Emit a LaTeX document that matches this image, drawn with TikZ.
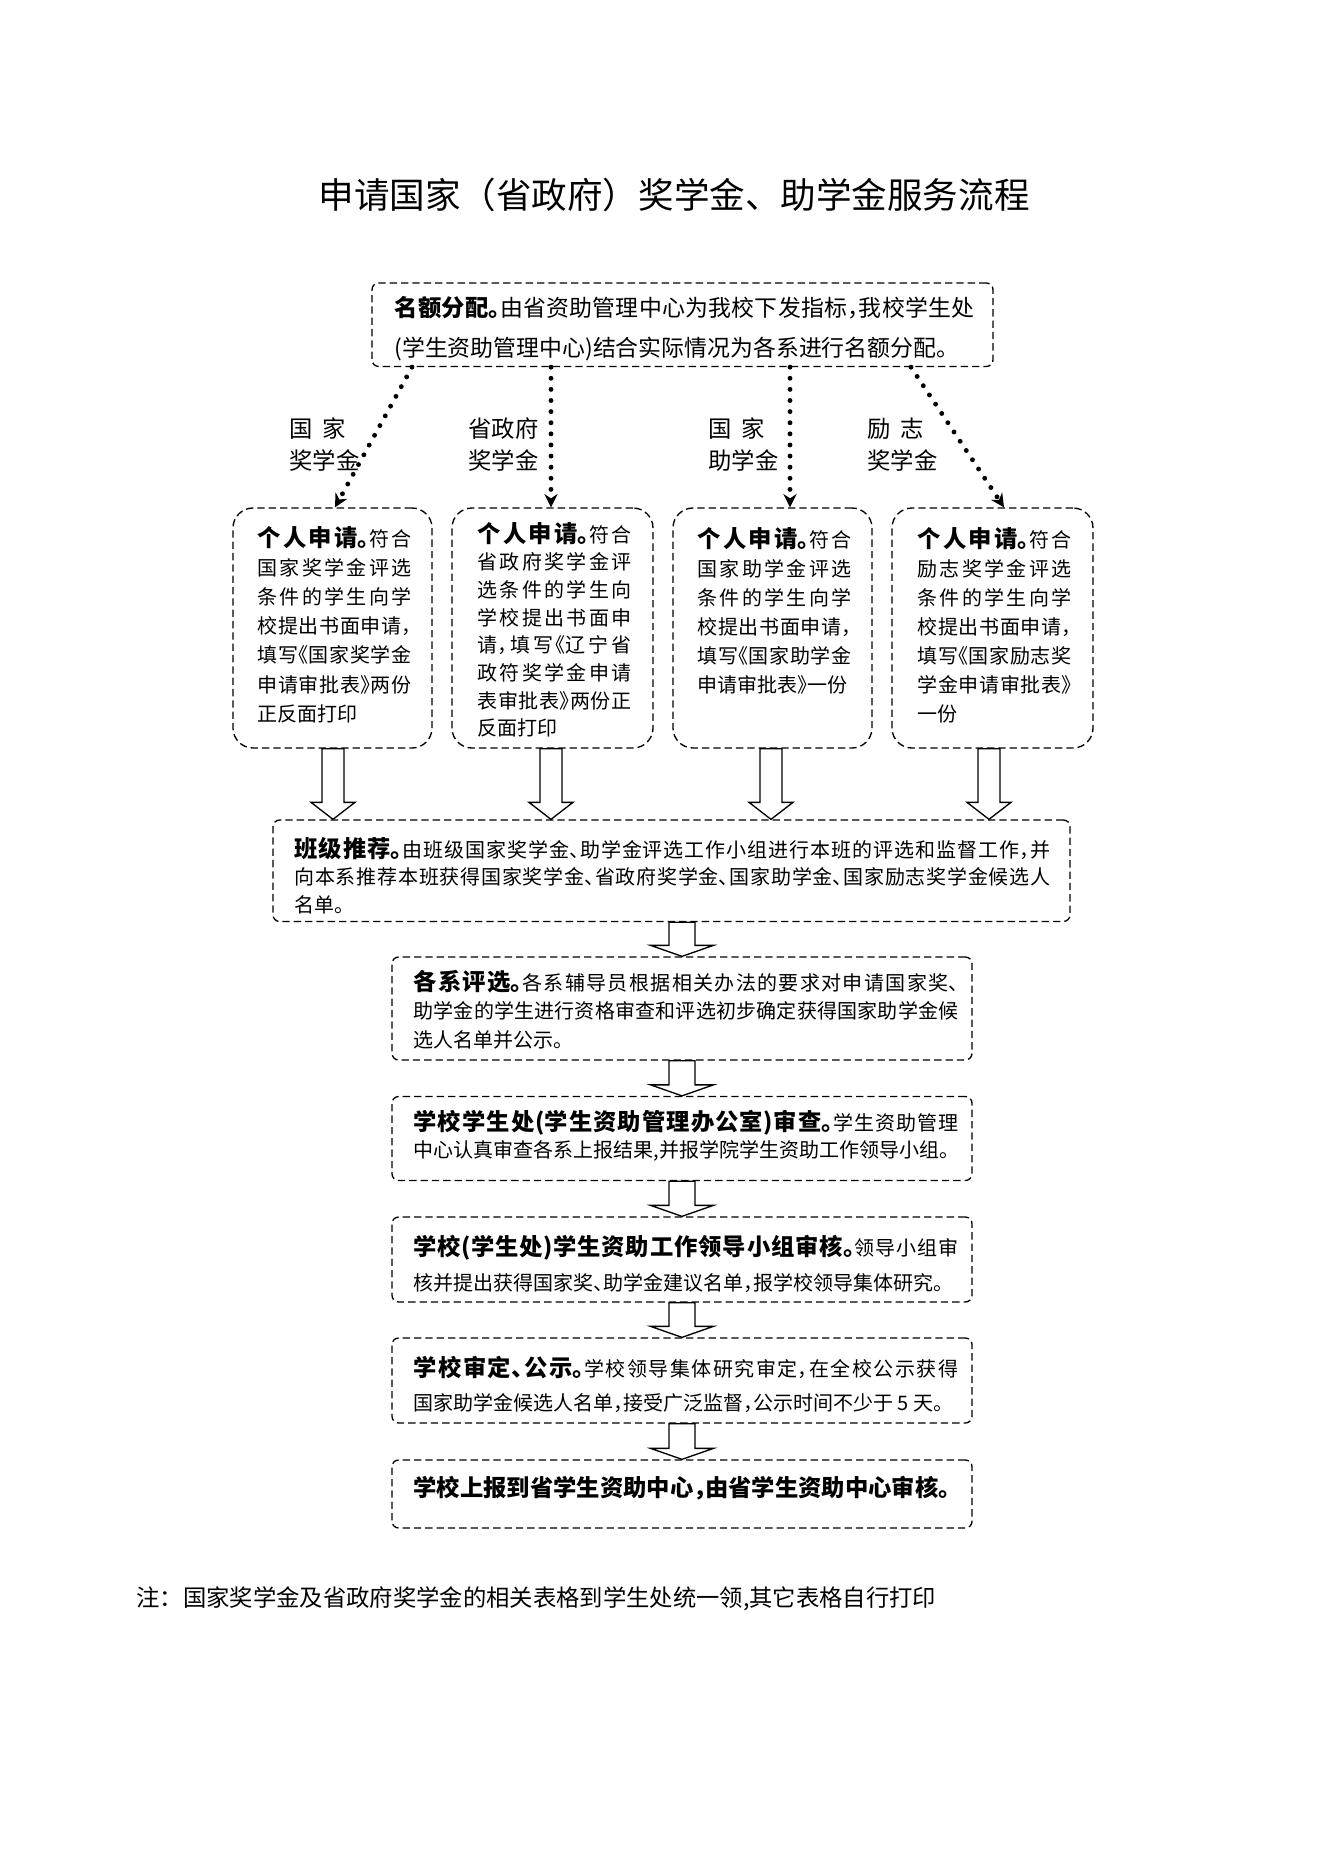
\documentclass[tikz,border=0pt]{standalone}
\usepackage{fontspec}
\setmainfont{Noto Sans CJK SC}[RawFeature={+halt}]
\newfontfamily\plainfont{Noto Sans CJK SC}
\usetikzlibrary{arrows.meta,calc,fit}
\XeTeXlinebreaklocale "zh"
\XeTeXlinebreakskip=0pt plus 3pt
\newcommand\hdtxt[1]{{\bfseries\fontsize{10.5}{10.5}\selectfont #1}}
\newcommand\harrow[6]{%
 \pgfmathsetmacro\hxa{#3-#4}\pgfmathsetmacro\hxb{#3+#4}%
 \pgfmathsetmacro\hxc{#3-#5}\pgfmathsetmacro\hxd{#3+#5}%
 \draw[harr] (\hxa,0 |- #1.south) -- ($(\hxa,0 |- #2.north)+(0,-#6)$) -- ($(\hxc,0 |- #2.north)+(0,-#6)$) -- (#3,0 |- #2.north) -- ($(\hxd,0 |- #2.north)+(0,-#6)$) -- ($(\hxb,0 |- #2.north)+(0,-#6)$) -- (\hxb,0 |- #1.south) -- cycle;}
\tikzset{
 dbox/.style={draw, dash pattern=on 3.3pt off 1.8pt, line width=0.6pt, rounded corners=3pt, inner sep=0pt, fit={#1}},
 sbox/.style={dbox={#1}, rounded corners=9pt},
 txt/.style={anchor=base west, inner sep=0pt, align=justify, text width=#1},
 lbl/.style={anchor=base west, inner sep=0pt, align=left, font=\fontsize{10.5}{14.4}\selectfont},
 dotarr/.style={line width=2.2pt, line cap=round, dash pattern=on 0pt off 5pt, -{Stealth[length=6pt,width=6pt]}},
 harr/.style={draw, line width=0.6pt, fill=white},
}
\begin{document}
\begin{tikzpicture}[x=0.45pt, y=-0.45pt]
\useasboundingbox (0,0) rectangle (1322,1871);
% title
\node[anchor=base, inner sep=0pt, font=\plainfont\fontsize{16}{16}\selectfont] (title) at (674,208) {申请国家（省政府）奖学金、助学金服务流程};
% boxes
\node[dbox={(372,283) (993,366.5)}] (top) {};
\node[sbox={(233,508) (432,748)}] (b1) {};
\node[sbox={(452,508) (653,748)}] (b2) {};
\node[sbox={(673,508) (872,748)}] (b3) {};
\node[sbox={(892,508) (1093,748)}] (b4) {};
\node[dbox={(273,820) (1070,921.5)}] (cls) {};
\node[dbox={(392,957) (972,1060)}] (d1) {};
\node[dbox={(392,1096.5) (972,1180.5)}] (d2) {};
\node[dbox={(392,1217) (972,1302)}] (d3) {};
\node[dbox={(392,1338) (972,1423)}] (d4) {};
\node[dbox={(392,1460) (972,1528)}] (d5) {};
% texts
\node[txt=261pt, font=\fontsize{10.3}{18}\selectfont] (t0) at (394,316) {\hdtxt{名额分配。}由省资助管理中心为我校下发指标，我校学生处\linebreak
(学生资助管理中心)结合实际情况为各系进行名额分配。};
\node[txt=69.3pt, font=\fontsize{9}{13.14}\selectfont] (tb1) at (257,546) {\hdtxt{个人申请。}符合\linebreak
国家奖学金评选\linebreak
条件的学生向学\linebreak
校提出书面申请，\linebreak
填写《国家奖学金\linebreak
申请审批表》两份\linebreak
正反面打印};
\node[txt=69.3pt, font=\fontsize{9}{12.47}\selectfont] (tb2) at (477,542) {\hdtxt{个人申请。}符合\linebreak
省政府奖学金评\linebreak
选条件的学生向\linebreak
学校提出书面申\linebreak
请，填写《辽宁省\linebreak
政符奖学金申请\linebreak
表审批表》两份正\linebreak
反面打印};
\node[txt=69.3pt, font=\fontsize{9}{13.05}\selectfont] (tb3) at (697,547) {\hdtxt{个人申请。}符合\linebreak
国家助学金评选\linebreak
条件的学生向学\linebreak
校提出书面申请，\linebreak
填写《国家助学金\linebreak
申请审批表》一份};
\node[txt=69.3pt, font=\fontsize{9}{13.05}\selectfont] (tb4) at (917,547) {\hdtxt{个人申请。}符合\linebreak
励志奖学金评选\linebreak
条件的学生向学\linebreak
校提出书面申请，\linebreak
填写《国家励志奖\linebreak
学金申请审批表》\linebreak
一份};
\node[txt=340.2pt, font=\fontsize{9}{12.4}\selectfont] (tc) at (294,857) {\hdtxt{班级推荐。}由班级国家奖学金、助学金评选工作小组进行本班的评选和监督工作，并\linebreak
向本系推荐本班获得国家奖学金、省政府奖学金、国家助学金、国家励志奖学金候选人\linebreak
名单。};
\node[txt=245.25pt, font=\fontsize{9}{12.7}\selectfont] (td1) at (413,990.6) {\hdtxt{各系评选。}各系辅导员根据相关办法的要求对申请国家奖、\linebreak
助学金的学生进行资格审查和评选初步确定获得国家助学金候\linebreak
选人名单并公示。};
\node[txt=245.25pt, font=\fontsize{9}{12}\selectfont] (td2) at (413,1130.6) {\parfillskip=0pt \hdtxt{学校学生处(学生资助管理办公室)审查。}学生资助管理\linebreak
中心认真审查各系上报结果,并报学院学生资助工作领导小组。};
\node[txt=245.25pt, font=\fontsize{9}{15.75}\selectfont] (td3) at (413,1255.6) {\parfillskip=0pt \hdtxt{学校(学生处)学生资助工作领导小组审核。}领导小组审\linebreak
核并提出获得国家奖、助学金建议名单，报学校领导集体研究。};
\node[txt=245.25pt, font=\fontsize{9}{15.2}\selectfont] (td4) at (413,1376.9) {\parfillskip=0pt \hdtxt{学校审定、公示。}学校领导集体研究审定，在全校公示获得\linebreak
国家助学金候选人名单，接受广泛监督，公示时间不少于 5 天。};
\node[anchor=base west, inner sep=0pt, font=\bfseries\fontsize{10.5}{10.5}\selectfont] (td5) at (413,1496.9) {学校上报到省学生资助中心，由省学生资助中心审核。};
% labels (base anchor = last line baseline)
\node[lbl] (l1) at (289,469) {国\hspace{0.4em}家\\奖学金};
\node[lbl] (l2) at (468,469) {省政府\\奖学金};
\node[lbl] (l3) at (708,469) {国\hspace{0.4em}家\\助学金};
\node[lbl] (l4) at (867,469) {励\hspace{0.4em}志\\奖学金};
% dotted arrows
\draw[dotarr] (412,0 |- top.south) -- (335,0 |- b1.north);
\draw[dotarr] (551,0 |- top.south) -- (551,0 |- b2.north);
\draw[dotarr] (790,0 |- top.south) -- (790,0 |- b3.north);
\draw[dotarr] (911,0 |- top.south) -- (1004,0 |- b4.north);
% hollow arrows
\harrow{b1}{cls}{333}{11}{22}{17}
\harrow{b2}{cls}{551}{11}{22}{17}
\harrow{b3}{cls}{771}{11}{22}{17}
\harrow{b4}{cls}{989}{11}{22}{17}
\harrow{cls}{d1}{682}{13}{31.5}{11}
\harrow{d1}{d2}{682}{13}{31.5}{11}
\harrow{d2}{d3}{682}{13}{31.5}{11}
\harrow{d3}{d4}{682}{13}{31.5}{11}
\harrow{d4}{d5}{682}{13}{31.5}{11}
% note
\node[anchor=base west, inner sep=0pt, font=\plainfont\fontsize{10.5}{10.5}\selectfont] (note) at (136,1606.4) {注：国家奖学金及省政府奖学金的相关表格到学生处统一领,其它表格自行打印};
\end{tikzpicture}
\end{document}
